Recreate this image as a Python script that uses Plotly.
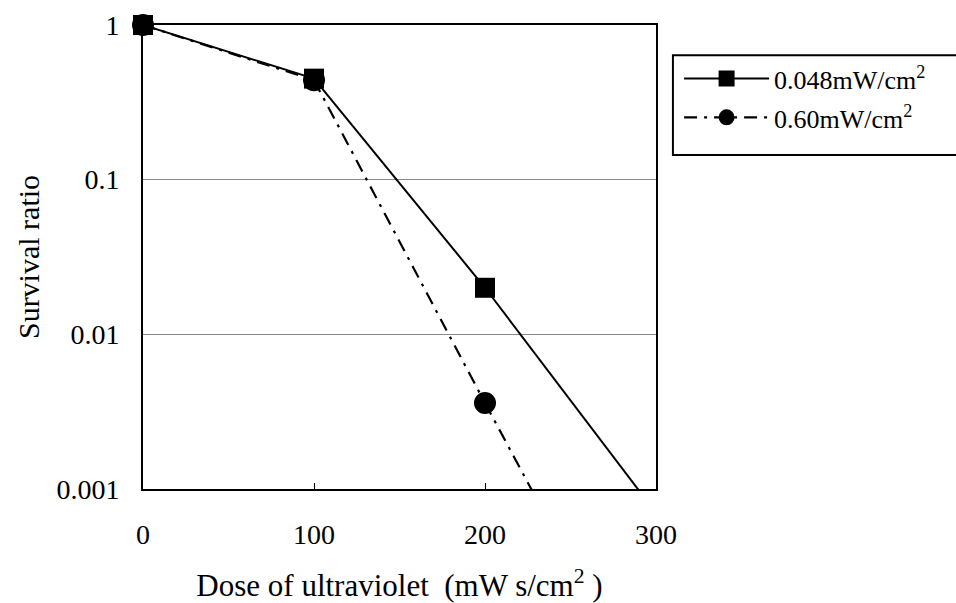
import plotly.graph_objects as go

dose = [0, 100, 200]
ratio_048 = [1.0, 0.45, 0.020]
ratio_060 = [1.0, 0.44, 0.0036]

# Extrapolated continuation of each line (runs off the bottom of the axis)
dose_ext = [200, 300]
ratio_048_ext = [0.020, 0.0007]
ratio_060_ext = [0.0036, 0.0000315]

x_ticks = [0, 100, 200, 300]
y_ticks = [1, 0.1, 0.01, 0.001]
y_ticktext = ["1", "0.1", "0.01", "0.001"]

names = ["0.048mW/cm<sup>2</sup>", "0.60mW/cm<sup>2</sup>"]

FONT = "Liberation Serif, Times New Roman, serif"
DASHDOT = "13px,7px,3px,7px"

fig = go.Figure()
# circle series drawn first so the squares sit on top
fig.add_trace(go.Scatter(
    x=dose_ext, y=ratio_060_ext, mode="lines", showlegend=False,
    line=dict(color="black", width=2.2, dash=DASHDOT), hoverinfo="skip",
))
fig.add_trace(go.Scatter(
    x=dose, y=ratio_060, mode="lines+markers", name=names[1],
    legendgroup="b", legendrank=2,
    line=dict(color="black", width=2.2, dash=DASHDOT),
    marker=dict(symbol="circle", size=22, color="black", opacity=1),
    cliponaxis=False,
))
fig.add_trace(go.Scatter(
    x=dose_ext, y=ratio_048_ext, mode="lines", showlegend=False,
    line=dict(color="black", width=2), hoverinfo="skip",
))
fig.add_trace(go.Scatter(
    x=dose, y=ratio_048, mode="lines+markers", name=names[0],
    legendgroup="a", legendrank=1,
    line=dict(color="black", width=2),
    marker=dict(symbol="square", size=20, color="black", opacity=1),
    cliponaxis=False,
))

# legend frame
fig.add_shape(type="rect", xref="paper", yref="paper",
              x0=1.033, x1=1.9, y0=0.72, y1=0.935,
              line=dict(color="black", width=2), fillcolor="white", layer="below")

fig.update_layout(
    width=956, height=603,
    margin=dict(l=143, r=300, t=25, b=114, autoexpand=False),
    paper_bgcolor="white", plot_bgcolor="white",
    font=dict(family=FONT, size=28, color="black"),
    showlegend=True,
    legend=dict(
        x=1.045, y=0.935, xanchor="left", yanchor="top",
        borderwidth=0, bgcolor="rgba(0,0,0,0)",
        font=dict(family=FONT, size=26),
        traceorder="grouped", tracegroupgap=2,
        itemsizing="trace", itemwidth=85,
    ),
    xaxis=dict(
        range=[0, 300], tickvals=x_ticks, automargin=False,
        showgrid=False, zeroline=False,
        showline=True, linecolor="black", linewidth=2, mirror=True,
        ticks="inside", ticklen=6, tickcolor="black",
        ticklabelstandoff=19,
        tickfont=dict(family=FONT, size=28),
        title=dict(text="Dose of ultraviolet&nbsp;&nbsp;(mW s/cm<sup>2</sup> )",
                   font=dict(family=FONT, size=31), standoff=38),
    ),
    yaxis=dict(
        type="log", range=[-3, 0], automargin=False,
        tickvals=y_ticks, ticktext=y_ticktext,
        showgrid=True, gridcolor="#8a8a8a", gridwidth=1,
        zeroline=False,
        showline=True, linecolor="black", linewidth=2, mirror=True,
        ticks="", ticklabelstandoff=16,
        tickfont=dict(family=FONT, size=28),
        title=dict(text="Survival ratio", font=dict(family=FONT, size=30),
                   standoff=8),
    ),
)

fig.write_html("out.html")
